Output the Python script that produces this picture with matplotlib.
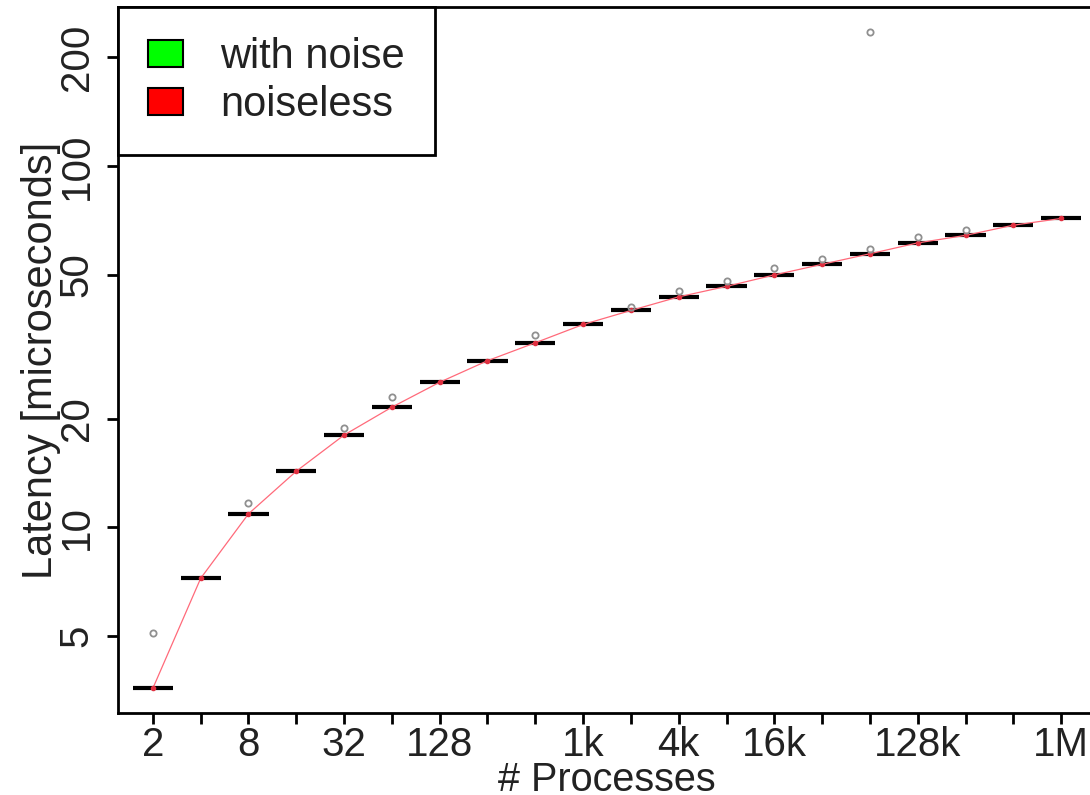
import matplotlib
matplotlib.use("Agg")
import matplotlib.pyplot as plt
from matplotlib.patches import Patch
import numpy as np

plt.rcParams['font.family'] = ['Liberation Sans', 'DejaVu Sans']

# ---- data ----
proc_labels = ['2', '4', '8', '16', '32', '64', '128', '256', '512', '1k',
               '2k', '4k', '8k', '16k', '32k', '64k', '128k', '256k', '512k', '1M']
shown_labels = ['2', '', '8', '', '32', '', '128', '', '', '1k',
                '', '4k', '', '16k', '', '', '128k', '', '', '1M']
with_noise_median = [3.59, 7.23, 10.9, 14.3, 18.0, 21.5, 25.2, 28.9, 32.4, 36.4,
                     39.8, 43.4, 46.4, 49.9, 53.4, 57.1, 61.2, 64.2, 68.5, 71.5]
noiseless_median = [3.59, 7.23, 10.9, 14.3, 18.0, 21.5, 25.2, 28.9, 32.4, 36.4,
                    39.8, 43.4, 46.4, 49.9, 53.4, 57.1, 61.2, 64.2, 68.5, 71.5]
outlier_idx = [1, 3, 5, 6, 9, 11, 12, 13, 14, 15, 16, 16, 17, 18]
outlier_val = [5.09, 11.65, 18.8, 22.9, 34.1, 40.8, 45.0, 47.9, 52.2, 55.3, 59.0, 234.0, 63.5, 66.4]
yticks = [5, 10, 20, 50, 100, 200]

FS = 30
TXT = '#222222'

fig = plt.figure(figsize=(10.9, 7.95), dpi=100)
W, H = 1090, 795
left, right, top, bottom = 118, 1096, 7, 713
ax = fig.add_axes([left / W, 1 - bottom / H, (right - left) / W, (bottom - top) / H])

pos = np.arange(1, len(proc_labels) + 1)
ax.set_yscale('log')

# "boxes" collapsed to medians (with noise)
half = 0.42
ax.hlines(with_noise_median, pos - half, pos + half, colors='black', linewidth=3, zorder=3)

# noiseless median line
ax.plot(pos, noiseless_median, color='#ff6a7a', linewidth=0.9, marker='o', markersize=3,
        markerfacecolor='#e03040', markeredgecolor='#e03040', zorder=4)

# outliers
ax.plot(outlier_idx, outlier_val, linestyle='none', marker='o', markersize=4.5,
        markerfacecolor='none', markeredgecolor='#909090', markeredgewidth=1.3, zorder=5)

half_span = 0.73
ax.set_xlim(1 - half_span, len(proc_labels) + half_span)
ax.set_ylim(3.066, 274.9)

ax.set_xticks(pos)
ax.set_xticklabels(shown_labels)
ax.set_yticks(yticks)
ax.set_yticklabels([str(v) for v in yticks], rotation=90, va='center')
ax.yaxis.set_minor_locator(matplotlib.ticker.NullLocator())

ax.tick_params(axis='both', which='major', length=8, width=2, labelsize=FS - 1,
               colors=TXT)
ax.tick_params(axis='both', color='black')
ax.tick_params(axis='x', pad=1.5)
ax.tick_params(axis='y', pad=8)
for s in ['left', 'bottom', 'top', 'right']:
    ax.spines[s].set_linewidth(2)
    ax.spines[s].set_color('black')

ax.set_xlabel('# Processes', fontsize=FS - 1.5, color=TXT, labelpad=-2)
ax.set_ylabel('Latency [microseconds]', fontsize=FS, color=TXT, labelpad=-2)

handles = [Patch(facecolor='#00ff00', edgecolor='black', linewidth=1.5),
           Patch(facecolor='#ff0000', edgecolor='black', linewidth=1.5)]
leg = ax.legend(handles, ['with noise', 'noiseless'], loc='upper left',
                bbox_to_anchor=(0, 1), borderaxespad=0, fancybox=False,
                framealpha=1, edgecolor='black', fontsize=FS,
                handlelength=0.84, handleheight=0.6, handletextpad=0.89,
                labelspacing=0.2, borderpad=0.72)
leg.get_frame().set_linewidth(2)
for t in leg.get_texts():
    t.set_color(TXT)

fig.savefig('out.png', dpi=100)
